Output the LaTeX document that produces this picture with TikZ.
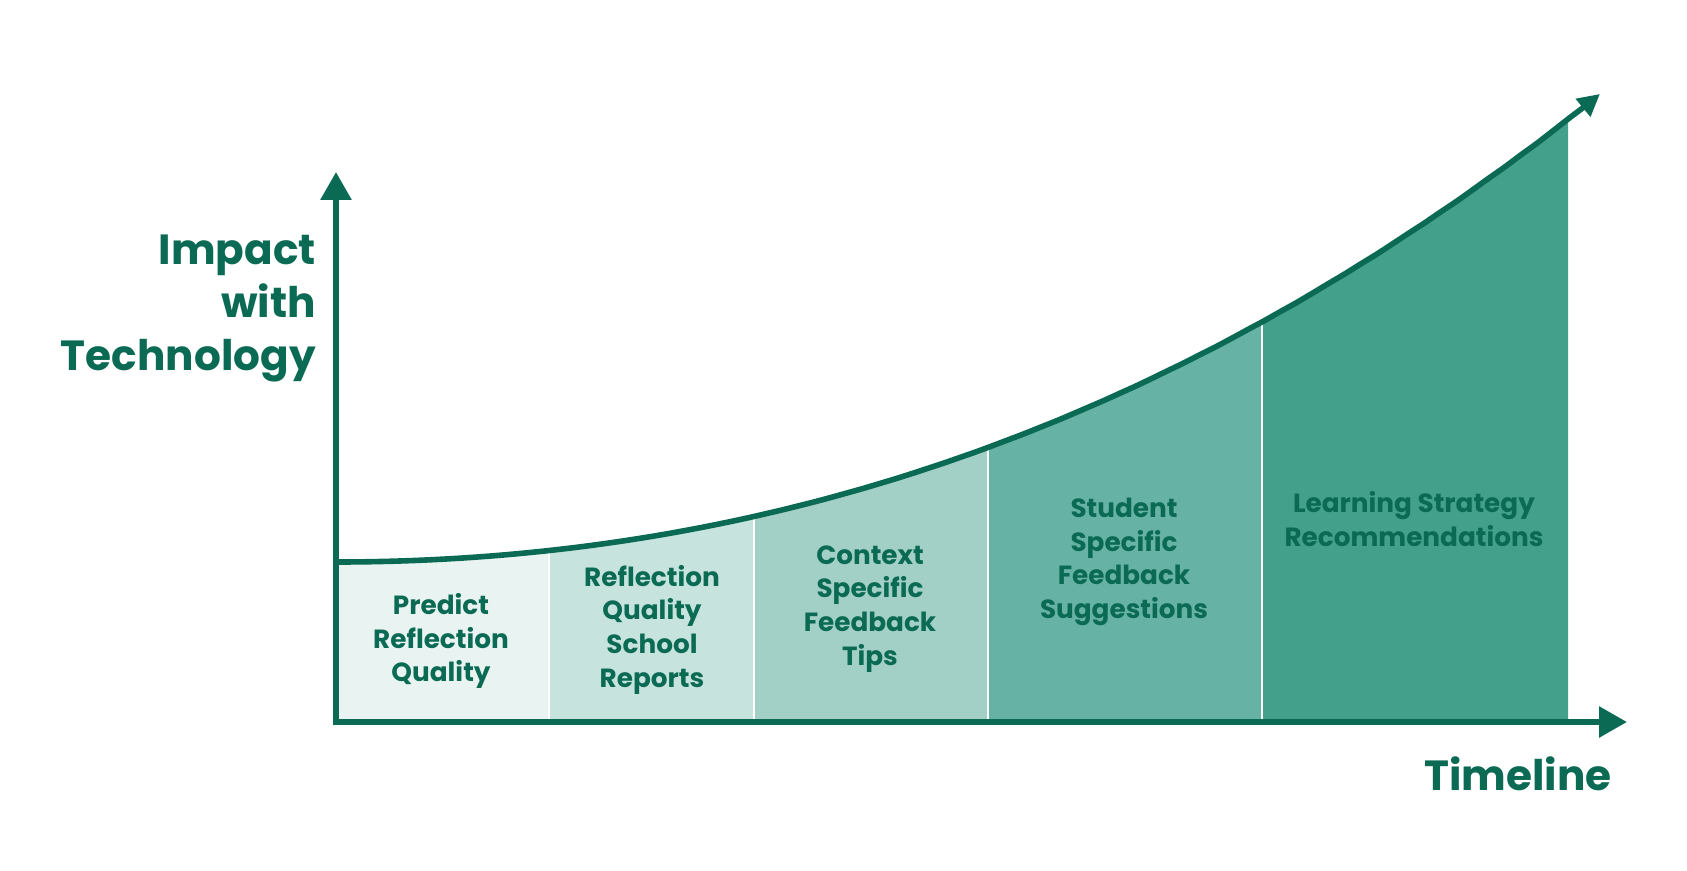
\documentclass[tikz,border=0pt]{standalone}
\usepackage{fontspec}
\setmainfont{Poppins}
\usepackage{tikz}
\usetikzlibrary{arrows.meta, positioning}

\definecolor{darkteal}{HTML}{0B6A53}
\definecolor{stageA}{HTML}{E9F4F2}
\definecolor{stageB}{HTML}{C6E3DD}
\definecolor{stageC}{HTML}{A2D0C6}
\definecolor{stageD}{HTML}{66B3A5}
\definecolor{stageE}{HTML}{42A08B}

\begin{document}
\begin{tikzpicture}[
    >=Latex,
    declare function={imp(\u)=4+\u*\u*(0.0098+0.00006256*\u);},
    axis/.style={line width=0.15cm, darkteal,
        {Triangle[length=0.7cm,width=0.75cm]}-{Triangle[length=0.7cm,width=0.75cm]}},
    growth/.style={line width=0.14cm, darkteal,
        -{Triangle[length=0.55cm,width=0.55cm]}},
    divider/.style={white, line width=0.07cm},
    stage/.style={align=center, text=darkteal, inner sep=0pt,
        font=\bfseries\fontsize{18.7}{24}\selectfont},
    title/.style={text=darkteal, inner sep=0pt,
        font=\bfseries\fontsize{30}{37.7}\selectfont}
]
\useasboundingbox (-8.4,-3.7) rectangle (33.775,18.05);

\foreach \a/\b/\c in {0/5.325/stageA, 5.325/10.45/stageB, 10.45/16.3/stageC,
    16.3/23.15/stageD, 23.15/30.8/stageE}
    \fill[\c] (\a,0) -- plot[smooth,domain=\a:\b,samples=40] (\x,{imp(\x)})
        -- (\b,0) -- cycle;

\foreach \d in {5.325,10.45,16.3,23.15}
    \draw[divider] (\d,0) -- (\d,{imp(\d)});

\coordinate (origin) at (0,0);
\coordinate (ytop) at (0,13.75);
\coordinate (xend) at (32.275,0);

\draw[axis] (ytop) -- (origin) -- (xend);

\draw[growth]
    plot[smooth,domain=0:31.6,samples=80]
    (\x,{imp(\x)});

\node[stage] (predict) at (2.625,2.025)
    {Predict\\Reflection\\Quality};
\node[stage] (reports) at (7.9,2.31)
    {Reflection\\Quality\\School\\Reports};
\node[stage] (tips) at (13.35,2.825)
    {Context\\Specific\\Feedback\\Tips};
\node[stage] (suggest) at (19.7,4.0)
    {Student\\Specific\\Feedback\\Suggestions};
\node[stage] (strategy) at (26.95,5.075)
    {Learning Strategy\\Recommendations};

\node[title, align=right, anchor=east] (impact) at (-0.5,10.35)
    {Impact\\with\\Technology};
\node[title, anchor=base east] (timeline) at (31.9,-1.7)
    {Timeline};

\end{tikzpicture}
\end{document}
